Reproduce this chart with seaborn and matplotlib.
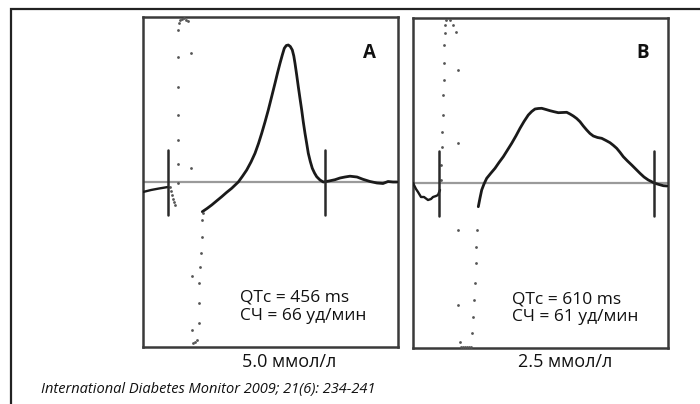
import matplotlib
matplotlib.use("Agg")
import matplotlib.pyplot as plt
import seaborn as sns
import pandas as pd

sns.set_theme(style="white")
plt.rcParams['font.family'] = ['Open Sans', 'DejaVu Sans']

# ---------------- data (panel A, 5.0 mmol/l) ----------------
a_pre_x = [0, 8, 16, 25]
a_pre_y = [-10, -8, -6.5, -5]
a_t_x = [59.3, 64, 68.7, 73.5, 78.7, 83.5, 88.7, 95.3, 99.5, 103.7, 108, 112, 115.5, 118.7, 122, 125.3,
         128.7, 132, 134.5, 137, 139.3, 141.3, 143.3, 145.3, 147.3, 149.3, 150.8, 152, 153.7, 155.3,
         157, 158.7, 160.3, 162, 163.7, 165.3, 167.3, 169.3, 171.5, 173.7, 177, 180.3, 186, 192,
         197, 202, 207, 214, 220, 227, 234, 240, 245, 250, 254]
a_t_y = [-29.7, -26.5, -23, -19, -14.7, -10.5, -6.3, 0, 5.8, 12, 20, 28.7, 38.5, 48.7, 60, 72,
         85.5, 98.7, 109, 118.7, 127, 133.7, 136.5, 137, 135.5, 132, 126, 118.7, 107, 95.3,
         83.5, 72, 60, 48.7, 38.5, 28.7, 20.5, 13.7, 9, 5.3, 2, 0, 1, 2.3,
         4, 5, 5.8, 5, 2.7, 0.5, -1, -1.5, 0.5, 0, 0]
a_dot_x = [27, 28, 29, 30, 31, 32, 35, 35, 35, 35, 35, 35, 35, 36, 37, 39, 41, 43, 45, 48, 48,
           60, 59, 59, 58, 57, 56, 56, 56, 49, 49, 52, 50, 54]
a_dot_y = [-5, -9, -13, -17, -20, -23, -1, 18, 42, 67, 95, 125, 152, 159, 162, 163, 164, 162, 161, 129, 14,
           -31, -38, -55, -71, -85, -101, -121, -141, -94, -148, -160, -161, -158]
a_markers_x = [25, 182]

# ---------------- data (panel B, 2.5 mmol/l) ----------------
b_pre_x = [0, 3, 5, 8, 11, 15, 18, 20, 23, 25, 27]
b_pre_y = [0, -6, -9, -14, -14, -17, -16, -14, -13, -12, -7]
b_t_x = [65.3, 67, 68.7, 71, 73.7, 78, 82, 86, 90.3, 94.5, 98.7, 103, 107, 111, 115.3, 118.7, 122,
         125.3, 128.7, 133, 137, 141, 145.3, 149.5, 153.7, 157, 160.3, 163.7, 167, 170.3, 173.7, 177,
         180.3, 184.5, 188.7, 193, 197, 200.3, 203.7, 207, 210.3, 214.5, 218.7, 223, 227, 231, 235.3,
         238.7, 242, 246, 250.3, 254]
b_t_y = [-23.7, -15, -7, -1, 4.7, 10, 14.7, 20.5, 26.3, 33, 39.7, 47.2, 54.7, 61.5, 68, 71.5, 74,
         74.5, 74.7, 73.5, 72.3, 71.3, 70.3, 70.5, 70.7, 69, 67, 64.5, 61.3, 57, 53, 49.5,
         47, 45.5, 44.7, 42.5, 40.3, 37.7, 34.7, 30.7, 26.3, 22, 18, 13.7, 9.7, 6, 3,
         1.3, -0.3, -1.5, -2.7, -3]
b_dot_x = [28.4, 28.4, 29.4, 29.4, 30, 30, 30.7, 30.7, 31, 31.7, 32.4, 33.4, 36.7, 40, 43.4, 45, 45, 45, 45,
           64, 63.4, 62.7, 61.7, 60.7, 60, 59.4, 46.7, 48, 50, 52, 54, 56, 58]
b_dot_y = [3, 18, 36, 51, 68, 88, 103, 120, 138, 150, 158, 163, 163, 158, 151, 113, 40, -47, -122,
           -47, -64, -80, -100, -117, -134, -150, -159, -164, -164, -164, -164, -164, -164]
b_markers_x = [26, 241]

labels = ["A", "B"]
qtc_text = ["QTc = 456 ms", "QTc = 610 ms"]
hr_text = ["СЧ = 66 уд/мин", "СЧ = 61 уд/мин"]
conc_text = ["5.0 ммол/л", "2.5 ммол/л"]
citation = "International Diabetes Monitor 2009; 21(6): 234-241"

W, H = 700, 404
fig = plt.figure(figsize=(W / 100, H / 100), dpi=100)
fig.patch.set_facecolor("white")

# outer frame (top & left lines)
frame = fig.add_axes([0, 0, 1, 1])
frame.set_xlim(0, W)
frame.set_ylim(H, 0)
frame.axis("off")
frame.plot([11, 11, W], [H, 9, 9], color="#222222", lw=1.6, solid_joinstyle="miter")

panels = [
    dict(pos=(143, 17, 255, 330), pre=(a_pre_x, a_pre_y), t=(a_t_x, a_t_y), dots=(a_dot_x, a_dot_y),
         markers=a_markers_x, lbl_xy=(226, 129), txt_x=97, conc_x=289),
    dict(pos=(413, 18, 255, 330), pre=(b_pre_x, b_pre_y), t=(b_t_x, b_t_y), dots=(b_dot_x, b_dot_y),
         markers=b_markers_x, lbl_xy=(230, 130), txt_x=99, conc_x=565),
]

for i, p in enumerate(panels):
    x0, y0, w, h = p["pos"]
    ax = fig.add_axes([x0 / W, 1 - (y0 + h) / H, w / W, h / H])
    ax.set_xlim(0, w)
    ax.set_ylim(-165, 165)
    ax.set_xticks([])
    ax.set_yticks([])
    for s in ax.spines.values():
        s.set_color("#3a3a3a")
        s.set_linewidth(1.8)
    ax.axhline(0, color="#9a9a9a", lw=1.6, zorder=1)
    pre = pd.DataFrame({"x": p["pre"][0], "y": p["pre"][1]})
    sns.lineplot(data=pre, x="x", y="y", ax=ax, color="#1a1a1a", lw=1.7, sort=False, zorder=3)
    t = pd.DataFrame({"x": p["t"][0], "y": p["t"][1]})
    sns.lineplot(data=t, x="x", y="y", ax=ax, color="#1a1a1a", lw=2.0, sort=False, zorder=3)
    d = pd.DataFrame({"x": p["dots"][0], "y": p["dots"][1]})
    sns.scatterplot(data=d, x="x", y="y", ax=ax, color="#555555", s=4, linewidth=0, zorder=3)
    for mx in p["markers"]:
        ax.plot([mx, mx], [-33, 32], color="#2a2a2a", lw=1.8, zorder=4)
    ax.set_xlabel("")
    ax.set_ylabel("")
    ax.text(p["lbl_xy"][0], p["lbl_xy"][1], labels[i], fontsize=13.5, fontweight="bold",
            ha="center", va="center", color="#111111")
    ax.text(p["txt_x"], -116, qtc_text[i], fontsize=12.5, ha="left", va="center", color="#111111")
    ax.text(p["txt_x"], -134, hr_text[i], fontsize=12.5, ha="left", va="center", color="#111111")
    frame.text(p["conc_x"], 362, conc_text[i], fontsize=13, ha="center", va="center", color="#111111")

frame.text(41, 389, citation, fontsize=10.5, style="italic", ha="left", va="center", color="#111111")

fig.savefig("out.png", dpi=100, facecolor="white")
